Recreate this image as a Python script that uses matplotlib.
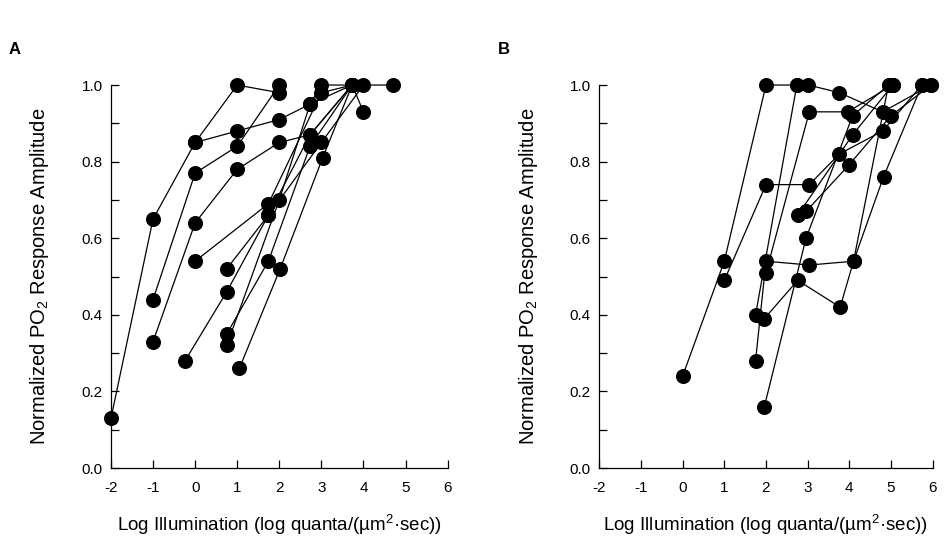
import matplotlib
matplotlib.use('Agg')
import matplotlib.pyplot as plt
from matplotlib.ticker import MultipleLocator

plt.rcParams['font.family'] = ['Liberation Sans', 'DejaVu Sans']
plt.rcParams['mathtext.default'] = 'regular'

# panel A, one list per cell (log illumination, normalized amplitude)
panel_a_x = [
    [-2, -1, 0, 1, 2],
    [-1, 0, 1, 2],
    [-1, 0, 1, 2, 2.73, 3.73],
    [0, 1, 2, 2.73, 3.0, 3.73, 4.71],
    [0, 1.74, 3.0, 3.73],
    [-0.24, 0.75, 1.74, 2.73, 3.73],
    [0.75, 1.74, 3.0, 4.0],
    [0.75, 1.74, 2.73, 3.73, 4.0],
    [0.75, 2.0, 2.73, 3.73],
    [1.05, 2.02, 3.03, 3.73],
]
panel_a_y = [
    [0.13, 0.65, 0.85, 1.0, 0.98],
    [0.44, 0.77, 0.84, 1.0],
    [0.33, 0.64, 0.78, 0.85, 0.87, 1.0],
    [0.85, 0.88, 0.91, 0.95, 1.0, 1.0, 1.0],
    [0.54, 0.69, 0.98, 1.0],
    [0.28, 0.46, 0.66, 0.87, 1.0],
    [0.52, 0.66, 0.85, 1.0],
    [0.35, 0.54, 0.84, 1.0, 0.93],
    [0.32, 0.70, 0.95, 1.0],
    [0.26, 0.52, 0.81, 1.0],
]

# panel B
panel_b_x = [
    [0, 1, 2, 2.74],
    [1, 2, 3.04, 3.76, 4.8, 5.74],
    [1.75, 2.74, 3.02, 3.76, 4.8, 5.96],
    [1.96, 2.76, 3.78, 4.1, 4.94],
    [1.75, 2.0, 3.04, 4.1, 4.82, 5.74],
    [1.96, 2.96, 4.08, 4.94],
    [2.0, 3.04, 3.96, 5.04],
    [2.76, 4.08, 5.04],
    [2.96, 3.98, 5.0, 5.96],
]
panel_b_y = [
    [0.24, 0.54, 1.0, 1.0],
    [0.49, 0.74, 0.74, 0.82, 0.88, 1.0],
    [0.40, 1.0, 1.0, 0.98, 0.93, 1.0],
    [0.39, 0.49, 0.42, 0.54, 1.0],
    [0.28, 0.54, 0.53, 0.54, 0.76, 1.0],
    [0.16, 0.60, 0.92, 1.0],
    [0.51, 0.93, 0.93, 1.0],
    [0.66, 0.87, 1.0],
    [0.67, 0.79, 0.92, 1.0],
]

x_ticks = [-2, -1, 0, 1, 2, 3, 4, 5, 6]
y_ticks = [0.0, 0.2, 0.4, 0.6, 0.8, 1.0]
x_label = 'Log Illumination (log quanta/(\u00b5m$^2$\u00b7sec))'
y_label = 'Normalized PO$_2$ Response Amplitude'


def draw_panel(ax, xs, ys):
    for x, y in zip(xs, ys):
        ax.plot(x, y, '-o', color='black', lw=0.9, ms=9.8, clip_on=False, zorder=3)
    ax.set_xlim(-2, 6)
    ax.set_ylim(0, 1)
    for s in ['top', 'right']:
        ax.spines[s].set_visible(False)
    for s in ['left', 'bottom']:
        ax.spines[s].set_linewidth(0.9)
    ax.set_xticks(x_ticks)
    ax.set_xticklabels([str(t) for t in x_ticks])
    ax.set_yticks(y_ticks)
    ax.set_yticklabels(['%.1f' % t for t in y_ticks])
    ax.yaxis.set_minor_locator(MultipleLocator(0.1))
    ax.tick_params(which='both', direction='in', length=6, width=0.9)
    ax.tick_params(axis='x', pad=9, labelsize=11)
    ax.tick_params(axis='y', pad=6, labelsize=11)
    ax.set_xlabel(x_label, fontsize=13.5)
    ax.set_ylabel(y_label, fontsize=14.5)
    ax.xaxis.set_label_coords(0.5, -0.149)
    ax.xaxis.label.set_va('center')
    ax.yaxis.set_label_coords(-0.213, 0.5)
    ax.yaxis.label.set_va('center')


fig = plt.figure(figsize=(9.5, 5.42), dpi=100)
ax_a = fig.add_axes([0.1168, 0.1365, 0.3544, 0.7066])
ax_b = fig.add_axes([0.6308, 0.1365, 0.351, 0.7066])
draw_panel(ax_a, panel_a_x, panel_a_y)
draw_panel(ax_b, panel_b_x, panel_b_y)

fig.text(0.009, 0.908, 'A', fontsize=12, fontweight='bold', va='center')
fig.text(0.524, 0.908, 'B', fontsize=12, fontweight='bold', va='center')

fig.savefig('out.png', dpi=100)
